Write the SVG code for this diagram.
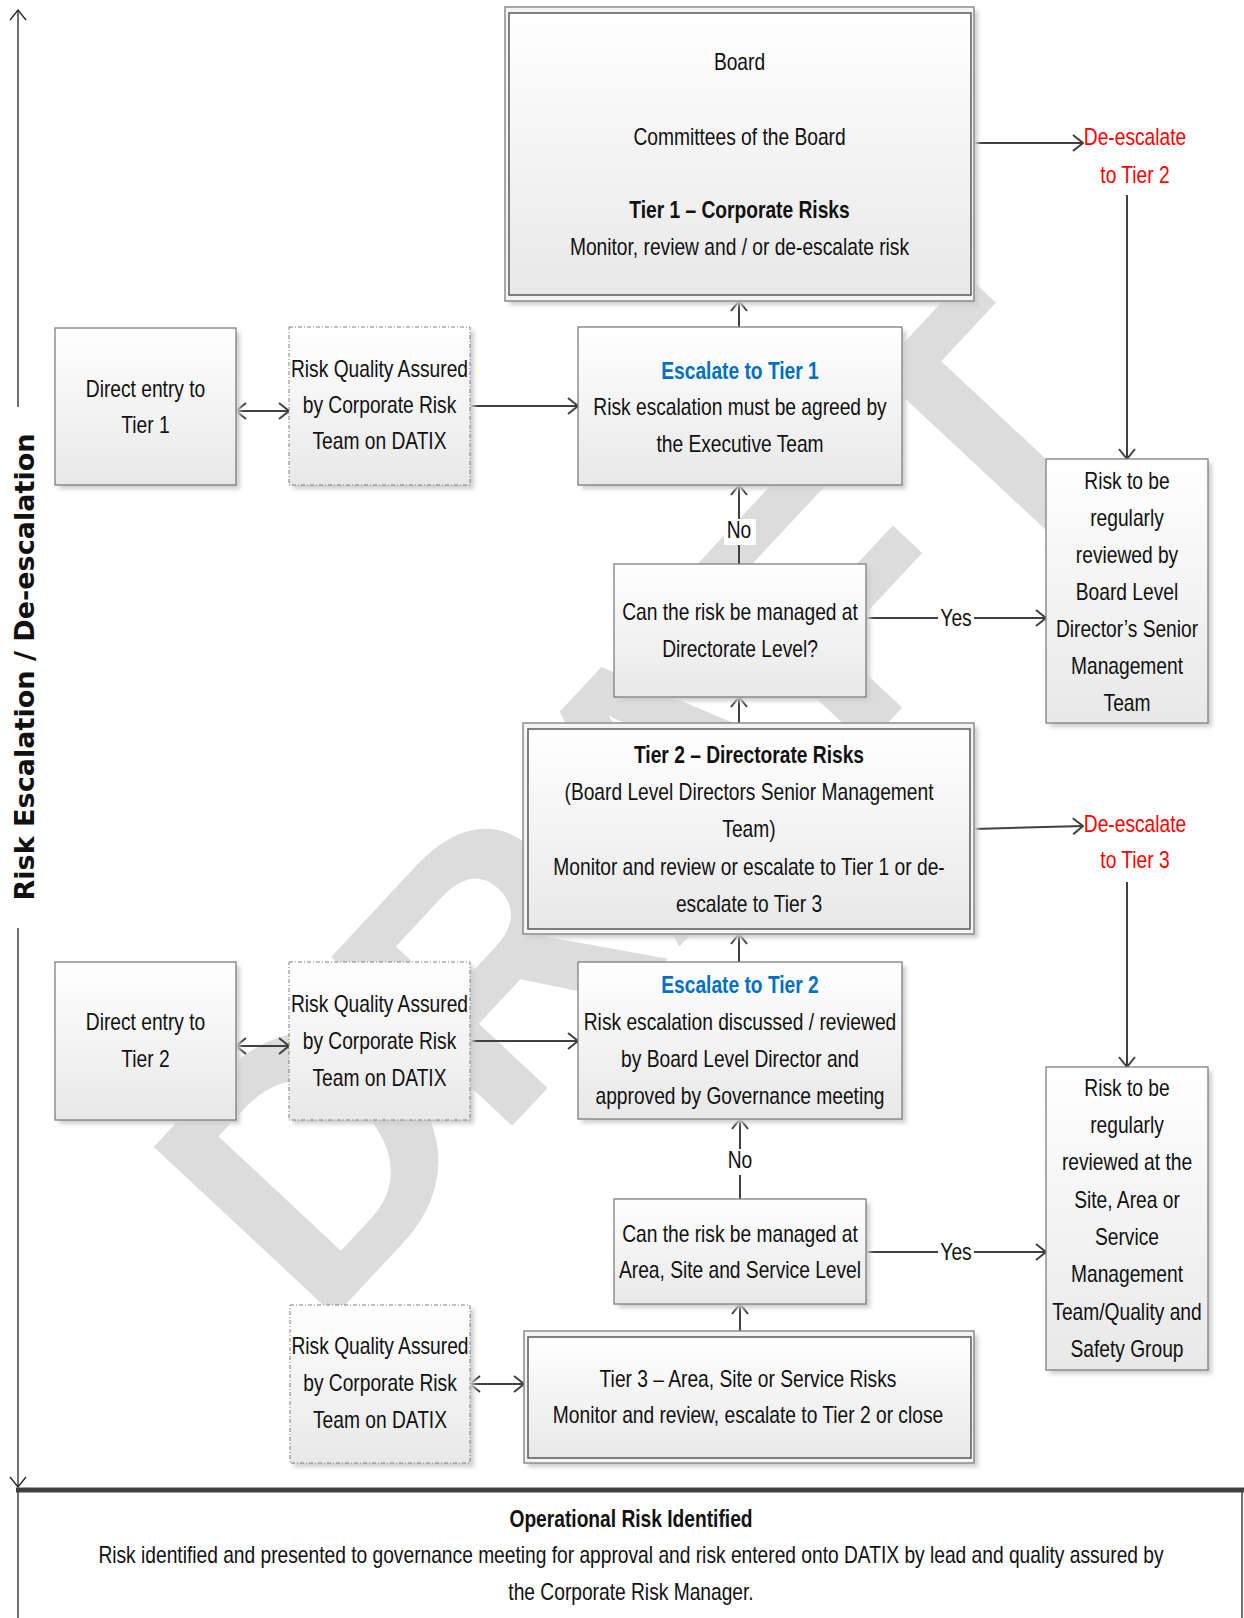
<svg xmlns="http://www.w3.org/2000/svg" width="1244" height="1618" viewBox="0 0 1244 1618">
<style>
.t{font-family:"Liberation Sans",Arial,sans-serif;font-size:24px;fill:#111;text-anchor:middle}
.b{font-weight:bold}
.blue{fill:#0070c0;font-weight:bold}
.red{fill:#ff0000}
.box{fill:url(#g);stroke:#7f7f7f;stroke-width:1.3}
.outer{fill:#f4f4f4;stroke:#8c8c8c;stroke-width:1.5}
.inner{fill:url(#g);stroke:#595959;stroke-width:1.5}
.dash{fill:url(#g);stroke:#7f7f7f;stroke-width:1;stroke-dasharray:4 2 1 2}
.sh{fill:#cfcfcf;filter:url(#blur)}
.c{stroke:#404040;stroke-width:2;fill:none}
.ax{stroke:#222;stroke-width:1.3;fill:none}
.lbl{fill:#fff}
</style>
<defs>
<linearGradient id="g" x1="0" y1="0" x2="0" y2="1">
<stop offset="0" stop-color="#ffffff"/>
<stop offset="1" stop-color="#e8e8e8"/>
</linearGradient>
<filter id="blur" x="-10%" y="-10%" width="120%" height="120%"><feGaussianBlur stdDeviation="2"/></filter>
<marker id="a" viewBox="0 0 12 18" refX="11" refY="9" markerWidth="12" markerHeight="18" markerUnits="userSpaceOnUse" orient="auto-start-reverse">
<path d="M1,1 L11,9 L1,17" fill="none" stroke="#404040" stroke-width="2"/>
</marker>
<marker id="ak" viewBox="0 0 12 18" refX="11" refY="9" markerWidth="12" markerHeight="18" markerUnits="userSpaceOnUse" orient="auto-start-reverse">
<path d="M1,1 L11,9 L1,17" fill="none" stroke="#222" stroke-width="1.3"/>
</marker>
</defs>
<rect width="1244" height="1618" fill="#fff"/>

<g id="watermark">
<text transform="translate(63 1109) rotate(-47)" x="10" y="340" style="font-family:'Liberation Sans',Arial,sans-serif;font-weight:bold;font-size:360px;fill:#dcdcdc">DRAFT</text>
</g>

<g id="axis">
<line class="ax" x1="18" y1="407" x2="18" y2="10" marker-end="url(#ak)"/>
<line class="ax" x1="18" y1="928" x2="18" y2="1487" marker-end="url(#ak)"/>
<text transform="translate(34 667) rotate(-90)" x="0" y="0" textLength="467" lengthAdjust="spacingAndGlyphs" style="font-family:'DejaVu Sans',sans-serif;font-weight:bold;font-size:26px;fill:#111;text-anchor:middle">Risk Escalation / De-escalation</text>
</g>

<g id="connectors">
<line class="c" x1="974" y1="143" x2="1083" y2="143" marker-end="url(#a)"/>
<line class="c" x1="1127" y1="195" x2="1127" y2="459" marker-end="url(#a)"/>
<line class="c" x1="739" y1="327" x2="739" y2="301" marker-end="url(#a)"/>
<line class="c" x1="236" y1="411" x2="289" y2="411" marker-start="url(#a)" marker-end="url(#a)"/>
<line class="c" x1="470" y1="406" x2="578" y2="406" marker-end="url(#a)"/>
<line class="c" x1="739" y1="564" x2="739" y2="485" marker-end="url(#a)"/>
<line class="c" x1="866" y1="618" x2="1046" y2="618" marker-end="url(#a)"/>
<line class="c" x1="739" y1="723" x2="739" y2="697" marker-end="url(#a)"/>
<line class="c" x1="974" y1="829" x2="1083" y2="826" marker-end="url(#a)"/>
<line class="c" x1="1127" y1="882" x2="1127" y2="1067" marker-end="url(#a)"/>
<line class="c" x1="739" y1="962" x2="739" y2="934" marker-end="url(#a)"/>
<line class="c" x1="236" y1="1046" x2="289" y2="1046" marker-start="url(#a)" marker-end="url(#a)"/>
<line class="c" x1="470" y1="1041" x2="578" y2="1041" marker-end="url(#a)"/>
<line class="c" x1="740" y1="1199" x2="740" y2="1119" marker-end="url(#a)"/>
<line class="c" x1="866" y1="1252" x2="1046" y2="1252" marker-end="url(#a)"/>
<line class="c" x1="740" y1="1331" x2="740" y2="1304" marker-end="url(#a)"/>
<line class="c" x1="470" y1="1384" x2="524" y2="1384" marker-start="url(#a)" marker-end="url(#a)"/>
<rect class="lbl" x="724" y="519" width="32" height="26"/>
<rect class="lbl" x="724" y="1149" width="32" height="26"/>
<rect class="lbl" x="938" y="604" width="36" height="26"/>
<rect class="lbl" x="938" y="1238" width="36" height="26"/>
<g transform="translate(739 0) scale(0.8 1)"><text class="t" x="0" y="538">No</text></g>
<g transform="translate(740 0) scale(0.8 1)"><text class="t" x="0" y="1168">No</text></g>
<g transform="translate(956 0) scale(0.8 1)"><text class="t" x="0" y="626">Yes</text><text class="t" x="0" y="1260">Yes</text></g>
</g>

<g id="board">
<rect class="sh" x="509" y="11" width="469" height="294"/>
<rect class="outer" x="505" y="7" width="469" height="294"/>
<rect class="inner" x="509" y="13" width="462" height="282"/>
<g transform="translate(739.5 0) scale(0.8 1)">
<text class="t" x="0" y="70">Board</text>
<text class="t" x="0" y="145">Committees of the Board</text>
<text class="t b" x="0" y="218">Tier 1 – Corporate Risks</text>
<text class="t" x="0" y="255">Monitor, review and / or de-escalate risk</text>
</g>
</g>

<g id="deesc2">
<g transform="translate(1135 0) scale(0.8 1)">
<text class="t red" x="0" y="145">De-escalate</text>
<text class="t red" x="0" y="183">to Tier 2</text>
</g>
</g>

<g id="direct1">
<rect class="sh" x="59" y="332" width="181" height="157"/>
<rect class="box" x="55" y="328" width="181" height="157"/>
<g transform="translate(145.5 0) scale(0.8 1)">
<text class="t" x="0" y="397">Direct entry to</text>
<text class="t" x="0" y="433">Tier 1</text>
</g>
</g>

<g id="rqa1">
<rect class="sh" x="293" y="331" width="181" height="158"/>
<rect class="dash" x="289" y="327" width="181" height="158"/>
<g transform="translate(379.5 0) scale(0.8 1)">
<text class="t" x="0" y="377">Risk Quality Assured</text>
<text class="t" x="0" y="413">by Corporate Risk</text>
<text class="t" x="0" y="449">Team on DATIX</text>
</g>
</g>

<g id="esc1">
<rect class="sh" x="582" y="331" width="324" height="158"/>
<rect class="box" x="578" y="327" width="324" height="158"/>
<g transform="translate(740 0) scale(0.8 1)">
<text class="t blue" x="0" y="379">Escalate to Tier 1</text>
<text class="t" x="0" y="415">Risk escalation must be agreed by</text>
<text class="t" x="0" y="452">the Executive Team</text>
</g>
</g>

<g id="risk1">
<rect class="sh" x="1050" y="463" width="162" height="264"/>
<rect class="box" x="1046" y="459" width="162" height="264"/>
<g transform="translate(1127 0) scale(0.8 1)">
<text class="t" x="0" y="489">Risk to be</text>
<text class="t" x="0" y="526">regularly</text>
<text class="t" x="0" y="563">reviewed by</text>
<text class="t" x="0" y="600">Board Level</text>
<text class="t" x="0" y="637">Director’s Senior</text>
<text class="t" x="0" y="674">Management</text>
<text class="t" x="0" y="711">Team</text>
</g>
</g>

<g id="dec1">
<rect class="sh" x="618" y="568" width="252" height="133"/>
<rect class="box" x="614" y="564" width="252" height="133"/>
<g transform="translate(740 0) scale(0.8 1)">
<text class="t" x="0" y="620">Can the risk be managed at</text>
<text class="t" x="0" y="657">Directorate Level?</text>
</g>
</g>

<g id="tier2">
<rect class="sh" x="527" y="727" width="451" height="211"/>
<rect class="outer" x="523" y="723" width="451" height="211"/>
<rect class="inner" x="528" y="729" width="442" height="200"/>
<g transform="translate(749 0) scale(0.8 1)">
<text class="t b" x="0" y="763">Tier 2 – Directorate Risks</text>
<text class="t" x="0" y="800">(Board Level Directors Senior Management</text>
<text class="t" x="0" y="837">Team)</text>
<text class="t" x="0" y="875">Monitor and review or escalate to Tier 1 or de-</text>
<text class="t" x="0" y="912">escalate to Tier 3</text>
</g>
</g>

<g id="deesc3">
<g transform="translate(1135 0) scale(0.8 1)">
<text class="t red" x="0" y="832">De-escalate</text>
<text class="t red" x="0" y="868">to Tier 3</text>
</g>
</g>

<g id="direct2">
<rect class="sh" x="59" y="966" width="181" height="158"/>
<rect class="box" x="55" y="962" width="181" height="158"/>
<g transform="translate(145.5 0) scale(0.8 1)">
<text class="t" x="0" y="1030">Direct entry to</text>
<text class="t" x="0" y="1067">Tier 2</text>
</g>
</g>

<g id="rqa2">
<rect class="sh" x="293" y="966" width="181" height="158"/>
<rect class="dash" x="289" y="962" width="181" height="158"/>
<g transform="translate(379.5 0) scale(0.8 1)">
<text class="t" x="0" y="1012">Risk Quality Assured</text>
<text class="t" x="0" y="1049">by Corporate Risk</text>
<text class="t" x="0" y="1086">Team on DATIX</text>
</g>
</g>

<g id="esc2">
<rect class="sh" x="582" y="966" width="324" height="157"/>
<rect class="box" x="578" y="962" width="324" height="157"/>
<g transform="translate(740 0) scale(0.8 1)">
<text class="t blue" x="0" y="993">Escalate to Tier 2</text>
<text class="t" x="0" y="1030">Risk escalation discussed / reviewed</text>
<text class="t" x="0" y="1067">by Board Level Director and</text>
<text class="t" x="0" y="1104">approved by Governance meeting</text>
</g>
</g>

<g id="risk2">
<rect class="sh" x="1050" y="1071" width="162" height="303"/>
<rect class="box" x="1046" y="1067" width="162" height="303"/>
<g transform="translate(1127 0) scale(0.8 1)">
<text class="t" x="0" y="1096">Risk to be</text>
<text class="t" x="0" y="1133">regularly</text>
<text class="t" x="0" y="1170">reviewed at the</text>
<text class="t" x="0" y="1208">Site, Area or</text>
<text class="t" x="0" y="1245">Service</text>
<text class="t" x="0" y="1282">Management</text>
<text class="t" x="0" y="1320">Team/Quality and</text>
<text class="t" x="0" y="1357">Safety Group</text>
</g>
</g>

<g id="dec2">
<rect class="sh" x="618" y="1203" width="252" height="105"/>
<rect class="box" x="614" y="1199" width="252" height="105"/>
<g transform="translate(740 0) scale(0.8 1)">
<text class="t" x="0" y="1242">Can the risk be managed at</text>
<text class="t" x="0" y="1278">Area, Site and Service Level</text>
</g>
</g>

<g id="tier3">
<rect class="sh" x="528" y="1335" width="450" height="132"/>
<rect class="outer" x="524" y="1331" width="450" height="132"/>
<rect class="inner" x="528" y="1337" width="443" height="121"/>
<g transform="translate(748 0) scale(0.8 1)">
<text class="t" x="0" y="1387">Tier 3 – Area, Site or Service Risks</text>
<text class="t" x="0" y="1423">Monitor and review, escalate to Tier 2 or close</text>
</g>
</g>

<g id="rqa3">
<rect class="sh" x="294" y="1309" width="180" height="158"/>
<rect class="dash" x="290" y="1305" width="180" height="158"/>
<g transform="translate(380 0) scale(0.8 1)">
<text class="t" x="0" y="1354">Risk Quality Assured</text>
<text class="t" x="0" y="1391">by Corporate Risk</text>
<text class="t" x="0" y="1428">Team on DATIX</text>
</g>
</g>

<g id="operational">
<rect x="18" y="1490" width="1224" height="140" fill="#fff" stroke="#404040" stroke-width="1.5"/>
<line x1="16" y1="1490" x2="1244" y2="1490" stroke="#404040" stroke-width="5"/>
<g transform="translate(631 0) scale(0.8 1)">
<text class="t b" x="0" y="1527">Operational Risk Identified</text>
<text class="t" x="0" y="1563">Risk identified and presented to governance meeting for approval and risk entered onto DATIX by lead and quality assured by</text>
<text class="t" x="0" y="1600">the Corporate Risk Manager.</text>
</g>
</g>
</svg>
